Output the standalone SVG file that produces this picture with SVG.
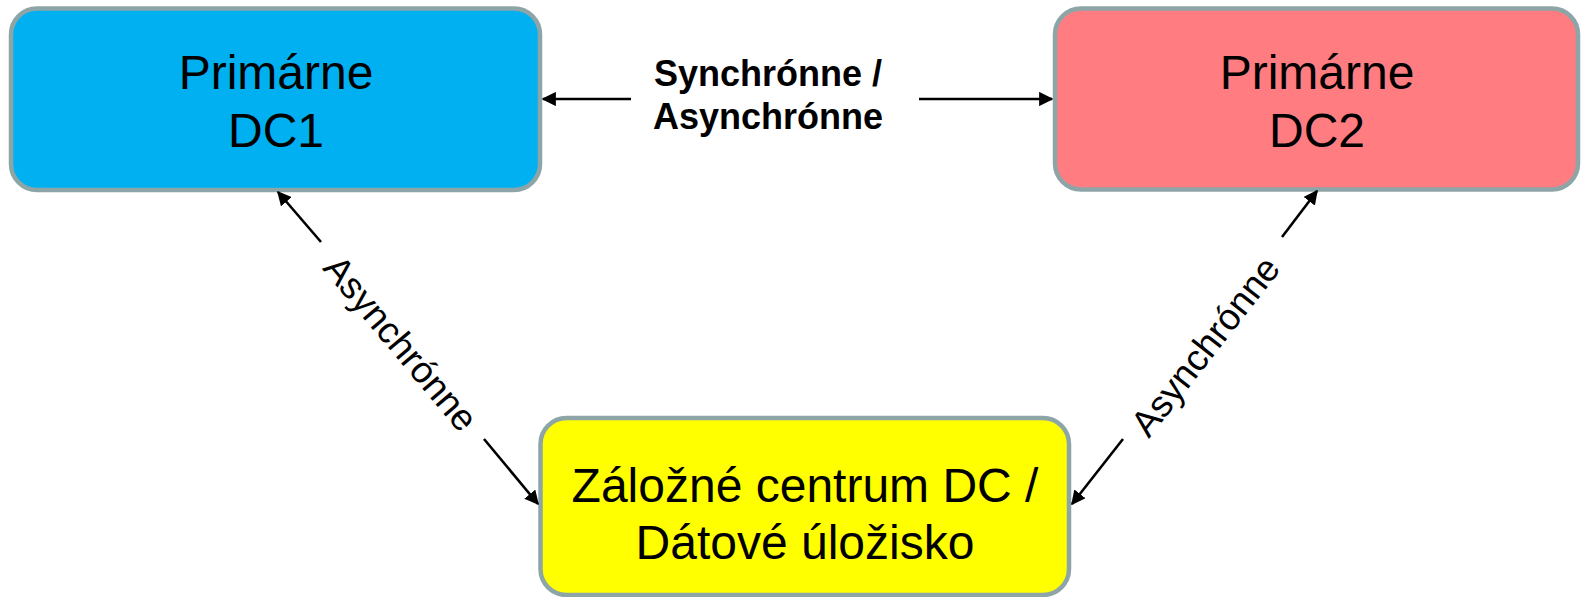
<svg xmlns="http://www.w3.org/2000/svg" width="1581" height="597" viewBox="0 0 1581 597">
<defs>
<style>
.box{stroke:#8ea5a8;stroke-width:4.5}
.nt{font-family:"Liberation Sans",Arial,sans-serif;font-size:48px;fill:#000;text-anchor:middle}
.lb{font-family:"Liberation Sans",Arial,sans-serif;font-size:37px;fill:#000;text-anchor:middle}
.lbb{font-family:"Liberation Sans",Arial,sans-serif;font-size:36px;font-weight:bold;fill:#000;text-anchor:middle}
.ln{stroke:#000;stroke-width:2.6;fill:none;marker-end:url(#ah)}
</style>
<marker id="ah" viewBox="0 0 10 10" refX="9" refY="5" markerWidth="5.5" markerHeight="5.5" markerUnits="strokeWidth" orient="auto">
<path d="M0,0 L10,5 L0,10 z" fill="#000"/>
</marker>
</defs>
<rect width="1581" height="597" fill="#fff"/>
<g id="dc1">
<rect class="box" x="11" y="8.5" width="529" height="181.5" rx="26" fill="#00b0f0"/>
<text class="nt" x="276" y="89">Primárne</text>
<text class="nt" x="276" y="147">DC1</text>
</g>
<g id="dc2">
<rect class="box" x="1055" y="8.5" width="523" height="181" rx="26" fill="#ff7c80"/>
<text class="nt" x="1317" y="89">Primárne</text>
<text class="nt" x="1317" y="147">DC2</text>
</g>
<g id="backup">
<rect class="box" x="540.5" y="418" width="528.5" height="177" rx="26" fill="#ffff00"/>
<text class="nt" x="805" y="502">Záložné centrum DC /</text>
<text class="nt" x="805" y="559">Dátové úložisko</text>
</g>
<g id="connectors">
<line class="ln" x1="631" y1="99" x2="543" y2="99"/>
<line class="ln" x1="919" y1="99" x2="1052" y2="99"/>
<line class="ln" x1="321" y1="242" x2="278" y2="192"/>
<line class="ln" x1="484" y1="439" x2="538" y2="504"/>
<line class="ln" x1="1282" y1="237" x2="1317" y2="191"/>
<line class="ln" x1="1123" y1="439" x2="1072" y2="504"/>
<text class="lbb" x="768" y="86">Synchrónne /</text>
<text class="lbb" x="768" y="129">Asynchrónne</text>
<text class="lb" transform="translate(401,343) rotate(50)" y="13">Asynchrónne</text>
<text class="lb" transform="translate(1205,346) rotate(-52)" y="13">Asynchrónne</text>
</g>
</svg>
